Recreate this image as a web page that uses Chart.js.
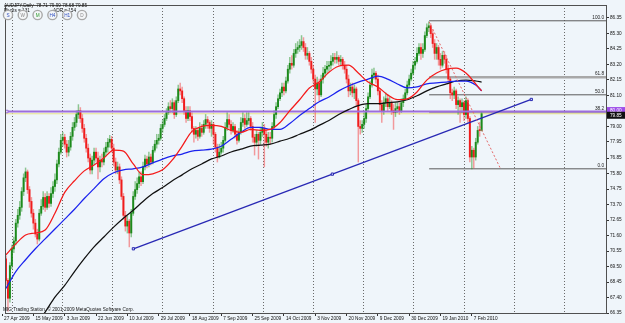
<!DOCTYPE html>
<html>
<head>
<meta charset="utf-8">
<script src="https://cdn.jsdelivr.net/npm/chart.js@4.4.0/dist/chart.umd.min.js"></script>
<style>
html, body { margin: 0; padding: 0; background: #eff5fa; }
#wrap { width: 625px; height: 323px; }
</style>
</head>
<body>
<div id="wrap"><canvas id="chart" width="625" height="323"></canvas></div>
<script>
// AUDJPY daily, 244 bars, open of each bar = previous close
const firstOpen = 70.02;
const closes = [
  68.56, 67.35, 69.56, 70.69, 71.23, 72.44, 72.97, 73.51, 74.58, 75.51,
  75.91, 74.71, 73.91, 73.11, 72.44, 71.70, 71.36, 73.11, 73.58, 74.18,
  73.51, 74.25, 73.78, 74.45, 74.92, 75.37, 76.45, 77.25, 78.05, 78.26,
  77.79, 77.25, 77.59, 78.32, 78.93, 79.26, 79.80, 80.06, 79.53, 78.86,
  78.19, 77.52, 76.85, 76.04, 76.71, 77.25, 76.85, 76.25, 76.71, 76.58,
  77.25, 77.59, 77.92, 78.12, 77.52, 76.58, 76.04, 76.25, 75.37, 74.25,
  72.97, 72.24, 72.57, 71.77, 73.11, 74.25, 74.71, 75.12, 75.58, 75.25,
  76.25, 76.78, 76.45, 76.92, 76.58, 77.38, 77.79, 78.05, 78.19, 78.86,
  79.13, 79.53, 79.93, 80.33, 80.20, 80.60, 79.80, 80.74, 81.53, 81.40,
  80.87, 80.06, 79.53, 80.06, 79.66, 78.86, 78.46, 78.72, 78.32, 78.86,
  78.59, 79.13, 79.46, 79.26, 78.86, 79.13, 78.46, 77.59, 76.92, 77.25,
  77.52, 78.05, 78.93, 79.46, 79.13, 78.72, 78.99, 78.46, 78.05, 78.59,
  79.26, 79.53, 79.13, 79.39, 79.53, 78.99, 78.26, 77.92, 78.46, 78.05,
  78.59, 78.86, 78.46, 77.92, 78.26, 78.19, 78.99, 79.80, 80.33, 80.87,
  81.27, 81.66, 81.40, 82.07, 82.87, 83.27, 83.14, 83.94, 84.21, 84.34,
  84.48, 84.74, 84.34, 83.81, 83.94, 83.40, 82.87, 82.20, 81.53, 81.93,
  81.13, 82.20, 82.60, 82.87, 83.07, 83.14, 83.40, 83.67, 83.54, 83.67,
  83.40, 83.54, 83.14, 82.87, 82.20, 81.40, 81.66, 81.27, 81.53, 80.74,
  78.99, 78.86, 79.13, 79.53, 80.20, 81.00, 81.80, 82.47, 82.60, 82.20,
  81.40, 80.47, 80.06, 80.60, 80.87, 80.33, 80.60, 80.06, 79.93, 80.20,
  80.33, 80.06, 80.60, 80.87, 81.27, 81.80, 82.20, 82.60, 83.14, 83.40,
  83.94, 84.34, 83.94, 84.21, 85.15, 85.68, 85.81, 85.28, 84.61, 83.94,
  84.34, 83.54, 83.14, 83.81, 83.54, 82.87, 82.20, 81.27, 81.13, 81.40,
  80.47, 80.74, 80.33, 80.60, 79.80, 80.74, 79.53, 76.92, 77.38, 76.92,
  77.92, 78.72, 78.71, 79.85
];
const highs = [
  70.23, 68.69, 69.76, 70.96, 71.50, 72.70, 73.37, 73.91, 74.85, 75.78,
  76.18, 76.04, 74.92, 74.18, 73.37, 72.70, 72.03, 73.37, 74.04, 74.58,
  74.45, 74.58, 74.45, 74.85, 75.25, 75.78, 76.71, 77.52, 78.46, 78.59,
  78.46, 78.05, 78.05, 78.59, 79.26, 79.60, 80.06, 80.47, 80.27, 79.80,
  79.13, 78.46, 77.79, 77.12, 76.99, 77.52, 77.52, 77.25, 76.99, 77.12,
  77.52, 77.92, 78.19, 78.39, 78.32, 77.79, 76.85, 76.58, 76.45, 75.58,
  74.45, 73.24, 72.91, 72.70, 73.37, 74.58, 75.25, 75.51, 75.91, 75.91,
  76.58, 77.05, 76.99, 77.25, 77.12, 77.65, 78.05, 78.46, 78.46, 79.13,
  79.39, 79.80, 80.20, 80.60, 80.74, 80.87, 80.74, 81.00, 81.80, 81.93,
  81.66, 81.00, 80.33, 80.33, 80.33, 79.93, 78.99, 78.99, 78.86, 79.26,
  79.13, 79.39, 79.80, 79.66, 79.39, 79.39, 79.26, 78.59, 77.79, 77.79,
  77.92, 78.32, 79.26, 79.93, 79.80, 79.39, 79.26, 79.13, 78.72, 78.86,
  79.60, 79.93, 79.80, 79.93, 79.93, 79.66, 79.26, 78.46, 78.72, 78.59,
  78.86, 79.26, 79.13, 78.72, 78.59, 78.59, 79.26, 80.06, 80.60, 81.13,
  81.53, 81.93, 81.93, 82.33, 83.14, 83.67, 83.80, 84.21, 84.61, 84.74,
  84.88, 85.15, 85.01, 84.61, 84.34, 84.07, 83.67, 83.14, 82.47, 82.33,
  82.20, 82.47, 83.00, 83.14, 83.40, 83.40, 83.80, 83.94, 83.94, 84.07,
  83.80, 83.80, 83.67, 83.40, 83.14, 82.47, 81.93, 81.93, 81.80, 81.66,
  80.87, 79.39, 79.39, 79.93, 80.47, 81.27, 82.07, 82.87, 82.94, 82.73,
  82.47, 81.53, 80.74, 81.00, 81.27, 81.13, 81.00, 80.74, 80.47, 80.60,
  80.60, 80.60, 80.87, 81.13, 81.53, 82.07, 82.47, 82.87, 83.40, 83.67,
  84.34, 84.61, 84.61, 84.61, 85.41, 85.95, 86.08, 85.95, 85.55, 84.88,
  84.61, 84.48, 83.94, 84.07, 84.07, 83.81, 83.14, 82.33, 81.53, 81.66,
  81.53, 81.00, 80.87, 80.87, 80.74, 81.00, 80.87, 79.66, 77.65, 77.52,
  78.19, 78.99, 79.26, 79.99
];
const lows = [
  68.23, 66.48, 67.09, 69.35, 70.43, 70.96, 72.17, 72.70, 73.24, 74.31,
  75.25, 74.45, 73.51, 72.84, 72.03, 71.50, 71.03, 71.23, 72.97, 73.37,
  73.24, 73.37, 73.51, 73.58, 74.18, 74.58, 75.12, 76.25, 77.12, 77.65,
  77.52, 76.92, 76.99, 77.38, 78.05, 78.72, 78.99, 79.53, 79.26, 78.59,
  77.92, 77.25, 76.58, 75.78, 75.78, 76.45, 76.58, 75.44, 75.91, 76.25,
  76.38, 76.99, 77.25, 77.59, 77.25, 76.31, 75.78, 75.78, 75.12, 74.04,
  72.70, 71.90, 71.77, 70.83, 71.50, 72.97, 74.04, 74.45, 74.85, 74.98,
  75.12, 76.04, 76.18, 76.25, 76.38, 76.45, 77.25, 77.52, 77.79, 78.05,
  78.59, 78.99, 79.39, 79.80, 79.93, 79.93, 79.53, 79.66, 80.60, 81.13,
  80.60, 79.80, 79.26, 79.39, 79.39, 78.59, 77.92, 78.19, 78.05, 78.19,
  78.32, 78.46, 78.86, 78.86, 78.59, 78.32, 77.79, 77.25, 76.58, 76.85,
  77.12, 77.25, 77.92, 78.72, 78.86, 78.46, 78.59, 78.19, 77.79, 77.92,
  78.46, 78.99, 78.86, 78.99, 79.13, 78.72, 77.92, 77.05, 77.65, 76.78,
  77.79, 78.32, 76.25, 77.65, 77.52, 77.79, 77.92, 78.86, 79.53, 80.20,
  80.74, 81.00, 81.13, 81.27, 81.93, 82.60, 82.87, 83.00, 83.67, 83.94,
  84.07, 84.21, 84.07, 83.54, 83.54, 83.14, 82.60, 81.93, 79.26, 81.13,
  80.74, 81.00, 81.93, 82.33, 82.60, 82.73, 82.87, 83.14, 83.27, 83.27,
  83.14, 83.14, 82.87, 82.60, 81.93, 81.00, 81.13, 81.00, 80.87, 80.33,
  76.58, 78.46, 78.59, 78.86, 79.26, 80.06, 80.87, 81.66, 82.20, 81.93,
  81.13, 80.06, 79.26, 79.80, 80.33, 80.06, 80.20, 79.80, 78.79, 79.66,
  79.93, 79.80, 79.93, 80.33, 80.74, 81.13, 81.66, 82.07, 82.47, 82.87,
  83.27, 83.80, 83.54, 83.67, 84.07, 85.01, 85.41, 85.01, 84.34, 83.54,
  83.54, 83.14, 82.87, 83.00, 83.27, 82.60, 81.93, 80.87, 80.74, 80.87,
  80.20, 79.80, 79.26, 79.93, 79.39, 79.53, 79.26, 76.58, 76.12, 76.18,
  76.71, 77.79, 78.32, 78.68
];

const maBars = [
  0, 5, 10, 15, 20, 25, 30, 35, 40, 45, 50, 55, 60, 65, 70, 75, 80, 85, 90, 95,
  100, 105, 110, 115, 120, 125, 130, 135, 140, 145, 150, 155, 160, 165, 170, 175, 180, 185, 190, 195,
  200, 205, 210, 215, 220, 225, 230, 235, 240, 243
];
const maRed = [
  70.30, 71.03, 71.63, 71.77, 71.97, 73.11, 74.52, 75.31, 75.98, 76.38,
  76.85, 77.39, 77.32, 76.45, 75.72, 75.78, 76.05, 76.72, 77.66, 78.66,
  78.99, 79.06, 78.99, 78.72, 78.59, 78.79, 78.73, 78.79, 79.26, 80.06,
  80.80, 81.60, 82.00, 82.67, 83.07, 83.14, 82.61, 82.00, 81.67, 81.13,
  80.80, 80.86, 81.33, 82.13, 82.61, 82.87, 82.94, 82.61, 81.87, 81.40
];
const maBlue = [
  68.02, 69.16, 69.96, 70.70, 71.37, 72.04, 72.71, 73.38, 74.11, 74.78,
  75.45, 75.85, 76.05, 76.12, 76.25, 76.52, 76.78, 76.99, 77.12, 77.32,
  77.39, 77.45, 77.65, 78.12, 78.59, 78.93, 78.93, 78.79, 78.79, 79.19,
  79.73, 80.20, 80.66, 80.99, 81.40, 81.73, 82.00, 82.20, 82.40, 82.20,
  81.87, 81.60, 81.67, 81.87, 81.94, 82.00, 82.07, 82.07, 81.80, 81.40
];
const maBlack = [
  null, null, 64.54, 65.48, 66.41, 67.42, 68.22, 69.16, 70.03, 70.83,
  71.50, 72.17, 72.77, 73.31, 73.91, 74.44, 74.85, 75.31, 75.71, 76.12,
  76.45, 76.79, 76.99, 77.26, 77.45, 77.65, 77.72, 77.79, 77.99, 78.19,
  78.46, 78.72, 79.06, 79.39, 79.80, 80.13, 80.40, 80.53, 80.53, 80.60,
  80.66, 80.80, 81.07, 81.40, 81.67, 81.87, 82.07, 82.13, 82.07, 82.00
];

// drawn objects
const trendBars = [65.1, 166.75, 268.4];
const trendVals = [70.70, 75.76, 80.82];
const hLinePrice = 80.00;
const bidPrice = 79.85;
const fibFrom = 216.2, fibTo = 252.7;
const fibHigh = 86.15, fibLow = 76.12;
const fibLevels = [100.0, 61.8, 50.0, 38.2, 0.0];

// axis labels
const yTickLabels = ['86.35', '85.30', '84.25', '83.20', '82.15', '81.10', '80.05', '79.00', '77.95', '76.85',
  '75.80', '74.75', '73.70', '72.65', '71.60', '70.55', '69.50', '68.45', '67.40', '66.35'];
const xTickLabels = ['27 Apr 2009', '15 May 2009', '3 Jun 2009', '22 Jun 2009', '10 Jul 2009', '29 Jul 2009',
  '18 Aug 2009', '7 Sep 2009', '25 Sep 2009', '14 Oct 2009', '3 Nov 2009', '20 Nov 2009', '9 Dec 2009',
  '30 Dec 2009', '19 Jan 2010', '7 Feb 2010'];

const FONT = 'Liberation Sans';
const FS = 4.7;
const X_MIN = -0.51, X_MAX = 306.56;

const opens = closes.map((c, i) => i === 0 ? firstOpen : closes[i - 1]);
const isUp = closes.map((c, i) => c >= opens[i]);

const pts = (xs, ys) => xs.map((x, i) => ({ x: x, y: ys[i] }));

const fibDatasets = fibLevels.map(lv => {
  const price = fibLow + (fibHigh - fibLow) * lv / 100;
  const thick = lv === 61.8 || lv === 38.2;
  return {
    type: 'line',
    data: [{ x: fibFrom, y: price }, { x: X_MAX, y: price }],
    borderColor: thick ? '#a8a8a8' : '#5a5a5a',
    borderWidth: thick ? 2.5 : 1,
    pointRadius: 0,
    order: 20
  };
});

const datasets = [
  ...fibDatasets,
  {
    type: 'line',
    data: [{ x: X_MIN, y: bidPrice }, { x: X_MAX, y: bidPrice }],
    borderColor: '#e8e48c', borderWidth: 1, pointRadius: 0, order: 19
  },
  {
    type: 'bar',
    data: lows.map((l, i) => ({ x: i, y: [l, highs[i]] })),
    backgroundColor: isUp.map(u => u ? 'rgba(40,150,40,0.5)' : 'rgba(245,60,60,0.5)'),
    barThickness: 0.8, grouped: false, borderWidth: 0, order: 18
  },
  {
    type: 'bar',
    data: closes.map((c, i) => ({ x: i, y: [opens[i], c] })),
    backgroundColor: isUp.map(u => u ? '#1c8a1c' : '#f01c1c'),
    barThickness: 1.3, grouped: false, borderWidth: 0, minBarLength: 1, order: 17
  },
  {
    type: 'line',
    data: [{ x: X_MIN + 0.9, y: hLinePrice }, { x: X_MAX, y: hLinePrice }],
    borderColor: '#9d6ddc', borderWidth: 2,
    pointStyle: 'rect', pointRadius: [1.8, 0], pointBackgroundColor: '#e8e0f8', pointBorderColor: '#9d6ddc',
    pointBorderWidth: 1, order: 16
  },
  {
    type: 'line', data: pts(maBars, maBlack),
    borderColor: '#101010', borderWidth: 1.25, pointRadius: 0, cubicInterpolationMode: 'monotone', order: 6
  },
  {
    type: 'line', data: pts(maBars, maBlue),
    borderColor: '#1a22ee', borderWidth: 1.25, pointRadius: 0, cubicInterpolationMode: 'monotone', order: 5
  },
  {
    type: 'line', data: pts(maBars, maRed),
    borderColor: '#f41a1a', borderWidth: 1.25, pointRadius: 0, cubicInterpolationMode: 'monotone', order: 4
  },
  {
    type: 'line', data: pts(trendBars, trendVals),
    borderColor: '#2828b4', borderWidth: 1.3,
    pointStyle: 'rect', pointRadius: 1.6, pointBackgroundColor: '#d8dcf4', pointBorderColor: '#2828b4',
    pointBorderWidth: 1, order: 3
  },
  {
    type: 'line',
    data: [{ x: fibFrom, y: fibHigh - 0.07 }, { x: fibTo, y: fibLow }],
    borderColor: '#e46a6a', borderWidth: 1, borderDash: [2, 2], pointRadius: 0, order: 2
  }
];

const decor = {
  id: 'decor',
  beforeDraw(chart) {
    const ctx = chart.ctx;
    ctx.save();
    ctx.fillStyle = '#eff5fa';
    ctx.fillRect(0, 0, chart.width, chart.height);
    ctx.restore();
  },
  beforeDatasetsDraw(chart) {
    const ctx = chart.ctx, a = chart.chartArea, xs = chart.scales.x;
    ctx.save();
    ctx.strokeStyle = '#6a6a6a';
    ctx.lineWidth = 1;
    ctx.setLineDash([1, 2]);
    for (let b = 3; b < X_MAX; b += 25.65) {
      const px = Math.round(xs.getPixelForValue(b)) + 0.5;
      ctx.beginPath();
      ctx.moveTo(px, a.top);
      ctx.lineTo(px, a.bottom);
      ctx.stroke();
    }
    ctx.restore();
  },
  afterDatasetsDraw(chart) {
    const ctx = chart.ctx, a = chart.chartArea, ys = chart.scales.y;
    ctx.save();
    ctx.font = FS + 'px "' + FONT + '"';
    ctx.fillStyle = '#222';
    ctx.textAlign = 'right';
    ctx.textBaseline = 'bottom';
    fibLevels.forEach(lv => {
      const price = fibLow + (fibHigh - fibLow) * lv / 100;
      ctx.fillText(lv.toFixed(1), a.right - 2, ys.getPixelForValue(price) - 1);
    });
    ctx.restore();
  },
  afterDraw(chart) {
    const ctx = chart.ctx, a = chart.chartArea, ys = chart.scales.y;
    ctx.save();
    // frame
    ctx.strokeStyle = '#505050';
    ctx.lineWidth = 1;
    ctx.strokeRect(a.left + 0.5, a.top + 0.5, a.right - a.left, a.bottom - a.top);

    // price boxes on the axis
    const boxes = [
      { price: hLinePrice, text: '80.00', bg: '#9d4ee8' },
      { price: bidPrice, text: '79.85', bg: '#101010' }
    ];
    ctx.font = FS + 'px "' + FONT + '"';
    ctx.textAlign = 'left';
    ctx.textBaseline = 'middle';
    boxes.forEach((bx, k) => {
      const py = ys.getPixelForValue(bx.price) + (k === 1 ? 1.5 : -1);
      ctx.fillStyle = bx.bg;
      ctx.fillRect(a.right + 1, py - 3.5, 18, 7);
      ctx.fillStyle = '#fff';
      ctx.fillText(bx.text, a.right + 4, py + 0.3);
    });

    // header
    ctx.fillStyle = '#111';
    ctx.textBaseline = 'top';
    ctx.fillText('AUDJPY,Daily  78.71 79.99 78.68 79.85', 4, 3);
    ctx.fillText('Pivots = 131', 4, 8.5);
    ctx.fillText('ADR = 154', 53, 8.5);

    // timeframe buttons
    const btn = ['S', 'W', 'M', 'H4', 'H1', 'D'];
    const btnCol = ['#3050c0', '#888', '#2a9a2a', '#3050c0', '#3050c0', '#888'];
    btn.forEach((t, i) => {
      const cx = 8 + i * 14.8, cy = 15;
      ctx.beginPath();
      ctx.arc(cx, cy, 4.6, 0, Math.PI * 2);
      ctx.fillStyle = '#f4f6f8';
      ctx.fill();
      ctx.strokeStyle = '#a8a8a8';
      ctx.lineWidth = 1.4;
      ctx.stroke();
      ctx.fillStyle = btnCol[i];
      ctx.textAlign = 'center';
      ctx.textBaseline = 'middle';
      ctx.fillText(t, cx, cy + 0.3);
    });

    // copyright
    ctx.fillStyle = '#111';
    ctx.textAlign = 'left';
    ctx.textBaseline = 'bottom';
    ctx.fillText('MIG Trading Station, \u00a9 2001-2009 MetaQuotes Software Corp.', 3, a.bottom - 1);
    ctx.restore();
  }
};

new Chart(document.getElementById('chart'), {
  type: 'bar',
  data: { datasets: datasets },
  plugins: [decor],
  options: {
    responsive: false,
    animation: false,
    events: [],
    layout: { padding: { left: 2, top: 1, right: 0, bottom: 0 } },
    plugins: { legend: { display: false }, tooltip: { enabled: false } },
    scales: {
      x: {
        type: 'linear',
        min: X_MIN, max: X_MAX,
        offset: false,
        afterBuildTicks: s => { s.ticks = xTickLabels.map((t, k) => ({ value: 16 * k - 2 })); },
        afterFit: s => { s.height = 10; s.paddingLeft = 0; s.paddingRight = 0; },
        ticks: {
          autoSkip: false, maxRotation: 0, align: 'start', labelOffset: 2, padding: 0,
          color: '#111', font: { family: FONT, size: FS },
          callback: (v, i) => xTickLabels[i]
        },
        grid: { drawOnChartArea: false, offset: false, tickLength: 3, color: '#333' },
        border: { color: '#505050' }
      },
      y: {
        position: 'right',
        min: 66.35, max: 87.22,
        afterBuildTicks: s => { s.ticks = yTickLabels.map(t => ({ value: parseFloat(t) })); },
        afterFit: s => { s.width = 19; s.paddingTop = 0; s.paddingBottom = 0; },
        ticks: {
          padding: 1, color: '#111', font: { family: FONT, size: FS },
          callback: (v, i) => yTickLabels[i]
        },
        grid: { drawOnChartArea: false, tickLength: 3, color: '#333' },
        border: { color: '#505050' }
      }
    }
  }
});
</script>
</body>
</html>
